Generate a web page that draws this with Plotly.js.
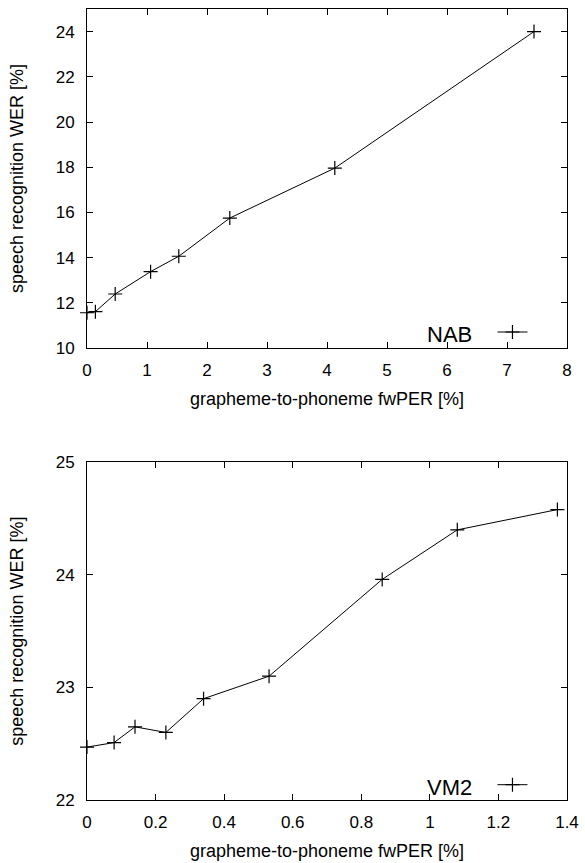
<!DOCTYPE html>
<html>
<head>
<meta charset="utf-8">
<script src="https://cdn.plot.ly/plotly-3.0.1.min.js"></script>
<style>html,body{margin:0;padding:0;background:#fff;}#chart{width:585px;height:863px;}</style>
</head>
<body>
<div id="chart"></div>
<script>
// Top panel: NAB
const nabPER = [0, 0.14, 0.47, 1.06, 1.53, 2.38, 4.13, 7.45];
const nabWER = [11.56, 11.61, 12.39, 13.38, 14.06, 15.75, 17.96, 24.0];
// Bottom panel: VM2
const vm2PER = [0, 0.079, 0.14, 0.23, 0.34, 0.531, 0.861, 1.08, 1.372];
const vm2WER = [22.47, 22.51, 22.65, 22.60, 22.90, 23.10, 23.96, 24.40, 24.58];

const xTitle = "grapheme-to-phoneme fwPER [%]";
const yTitle = "speech recognition WER [%]";
const nabTicks = [0, 1, 2, 3, 4, 5, 6, 7, 8];
const nabYTicks = [10, 12, 14, 16, 18, 20, 22, 24];
const vm2Ticks = [0, 0.2, 0.4, 0.6, 0.8, 1, 1.2, 1.4];
const vm2TickText = ["0", "0.2", "0.4", "0.6", "0.8", "1", "1.2", "1.4"];
const vm2YTicks = [22, 23, 24, 25];

const FONT = "Liberation Sans, Arial, Helvetica, sans-serif";
const FS = 17;
const TFS = 18;
const lineStyle = {color: "black", width: 1};
const markerStyle = {symbol: "cross-thin", size: 10, color: "black", line: {color: "black", width: 1.2}};

const traces = [
  {x: nabPER, y: nabWER, xaxis: "x", yaxis: "y", mode: "lines+markers", name: " ",
   line: lineStyle, marker: markerStyle, cliponaxis: false, legend: "legend"},
  {x: vm2PER, y: vm2WER, xaxis: "x2", yaxis: "y2", mode: "lines+markers", name: " ",
   line: lineStyle, marker: markerStyle, cliponaxis: false, legend: "legend2"}
];

function axis(extra) {
  return Object.assign({
    showline: true, linecolor: "black", linewidth: 1, mirror: "ticks",
    ticks: "inside", ticklen: 6, tickwidth: 1, tickcolor: "black",
    showgrid: false, zeroline: false, fixedrange: true,
    tickfont: {family: FONT, size: FS, color: "black"}
  }, extra);
}

const legendBase = {
  bgcolor: "rgba(0,0,0,0)", borderwidth: 0,
  font: {family: FONT, size: TFS, color: "black"},
  xanchor: "right", yanchor: "middle", itemwidth: 30
};

const layout = {
  width: 585, height: 863,
  margin: {l: 87, r: 18, t: 9, b: 63},
  paper_bgcolor: "white", plot_bgcolor: "white",
  font: {family: FONT, size: FS, color: "black"},
  showlegend: true,
  xaxis: axis({domain: [0, 1], range: [0, 8], tickvals: nabTicks, anchor: "y", ticklabelstandoff: 7,
    title: {text: xTitle, font: {family: FONT, size: TFS}, standoff: 12}}),
  yaxis: axis({domain: [0.5714, 1], range: [10, 25], tickvals: nabYTicks, anchor: "x", ticklabelstandoff: 8,
    title: {text: yTitle, font: {family: FONT, size: TFS}, standoff: 27}}),
  xaxis2: axis({domain: [0, 1], range: [0, 1.4], tickvals: vm2Ticks, ticktext: vm2TickText, anchor: "y2", ticklabelstandoff: 7,
    title: {text: xTitle, font: {family: FONT, size: TFS}, standoff: 12}}),
  yaxis2: axis({domain: [0, 0.4269], range: [22, 25], tickvals: vm2YTicks, anchor: "x2", ticklabelstandoff: 8,
    title: {text: yTitle, font: {family: FONT, size: TFS}, standoff: 27}}),
  legend: Object.assign({}, legendBase, {x: 0.95, y: 0.590, title: {text: "NAB\u00a0\u00a0", side: "left"}}),
  legend2: Object.assign({}, legendBase, {x: 0.95, y: 0.0177, title: {text: "VM2\u00a0\u00a0", side: "left"}})
};

Plotly.newPlot("chart", traces, layout, {displayModeBar: false, staticPlot: true});
</script>
</body>
</html>
